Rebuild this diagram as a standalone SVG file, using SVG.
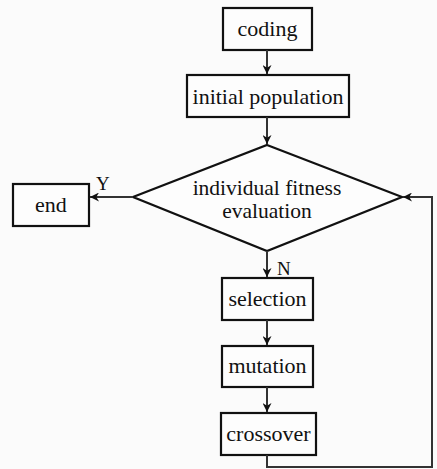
<svg xmlns="http://www.w3.org/2000/svg" width="437" height="469" viewBox="0 0 437 469">
<style>
.box{fill:#fdfdfd;stroke:#111;stroke-width:2.2}
.t{font-family:'Liberation Serif','DejaVu Serif',serif;font-size:22px;fill:#111;text-anchor:middle}
.d{font-size:21.5px}
.lbl{font-family:'Liberation Serif','DejaVu Serif',serif;font-size:19px;fill:#111}
.c{fill:none;stroke:#333;stroke-width:2}
</style>
<defs>
<marker id="ah" viewBox="0 0 10 10" refX="10" refY="5" markerWidth="9" markerHeight="9" markerUnits="userSpaceOnUse" orient="auto">
<path d="M0,0 L10,5 L0,10 L3,5 Z" fill="#111"/>
</marker>
</defs>
<rect width="437" height="469" fill="#fbfbfb"/>
<g id="coding"><rect class="box" x="223" y="8" width="89" height="42"/><text class="t" x="267.5" y="36">coding</text></g>
<g id="init"><rect class="box" x="187" y="75" width="162" height="42"/><text class="t" x="268" y="104">initial population</text></g>
<g id="eval"><polygon class="box" points="267,145 402,197 267,251 133,197"/><text class="t d" x="267" y="195">individual fitness</text><text class="t d" x="267" y="218">evaluation</text></g>
<g id="end"><rect class="box" x="13" y="184" width="76" height="42"/><text class="t" x="51" y="212">end</text></g>
<g id="selection"><rect class="box" x="222" y="278" width="91" height="42"/><text class="t" x="267.5" y="306">selection</text></g>
<g id="mutation"><rect class="box" x="222" y="346" width="91" height="41"/><text class="t" x="267.5" y="373">mutation</text></g>
<g id="crossover"><rect class="box" x="221" y="413" width="95" height="42"/><text class="t" x="268.5" y="441">crossover</text></g>
<g id="connectors">
<line class="c" x1="267" y1="50" x2="267" y2="74" marker-end="url(#ah)"/>
<line class="c" x1="267" y1="117" x2="267" y2="144" marker-end="url(#ah)"/>
<line class="c" x1="133" y1="197" x2="90" y2="197" marker-end="url(#ah)"/>
<line class="c" x1="267" y1="251" x2="267" y2="277" marker-end="url(#ah)"/>
<line class="c" x1="267" y1="320" x2="267" y2="345" marker-end="url(#ah)"/>
<line class="c" x1="267" y1="387" x2="267" y2="412" marker-end="url(#ah)"/>
<polyline class="c" points="267,455 267,467 432,467 432,197 403,197" marker-end="url(#ah)"/>
<text class="lbl" x="96" y="190">Y</text>
<text class="lbl" x="277" y="275">N</text>
</g>
</svg>
